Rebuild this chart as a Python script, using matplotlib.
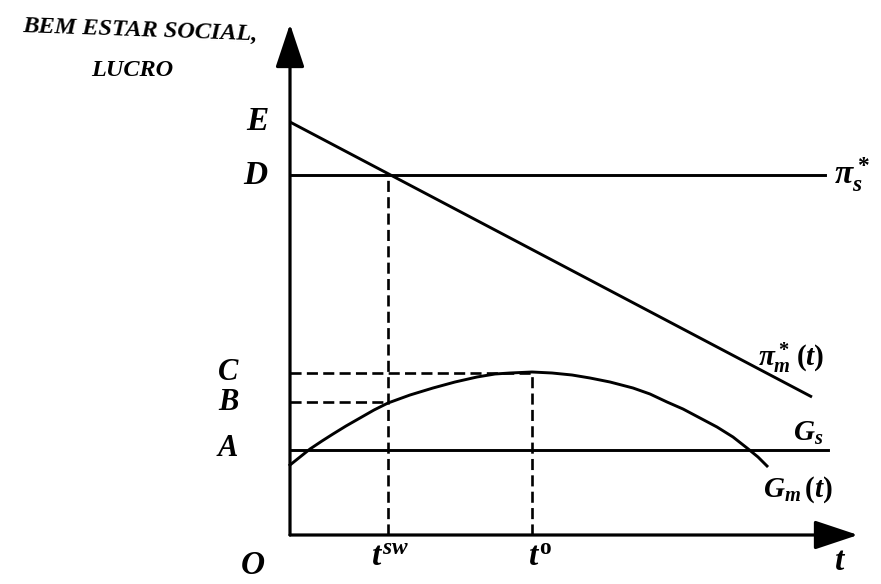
import numpy as np
import matplotlib.pyplot as plt
from matplotlib.patches import FancyArrowPatch

plt.rcParams['font.family'] = ['Liberation Serif', 'DejaVu Serif']
plt.rcParams['mathtext.fontset'] = 'custom'
plt.rcParams['mathtext.it'] = 'Liberation Serif:italic:bold'
plt.rcParams['mathtext.rm'] = 'Liberation Serif:bold'
plt.rcParams['mathtext.bf'] = 'Liberation Serif:bold:italic'

# Levels on the vertical axis
E, D, C, B, A = 413, 360, 162, 133, 85
t_sw, t_o = 98, 242

# pi*_m(t): falling straight line, start and end
pim_t = [0, 522]
pim_v = [E, 138]

# pi*_s and G_s: horizontal lines
pis_t = [0, 535]
gs_t = [0, 538]

# G_m(t): hump-shaped curve
gm_t = [0, 10, 20, 32, 43, 56, 70, 84, 98, 120, 143, 165, 187, 205, 220, 242,
        262, 282, 300, 320, 343, 360, 377, 393, 410, 427, 443, 457, 468, 477]
gm_v = [70, 78, 86, 94, 101, 109, 117, 125, 132, 140, 147, 153, 158, 161, 162, 163,
        162, 160, 157, 153, 147, 141, 133, 126, 117, 108, 98, 87, 78, 69]

x_end, y_end = 568, 511

fig = plt.figure(figsize=(8.81, 5.84), dpi=100)
ax = fig.add_axes([0, 0, 1, 1])
ax.set_xlim(-290, 591)
ax.set_ylim(-49, 535)
ax.axis('off')

lw = 2.1
dash = (0, (4.2, 2.0))

# axes with arrows
for xy in [((0, 0), (x_end, 0)), ((0, 0), (0, y_end))]:
    ax.add_patch(FancyArrowPatch(xy[0], xy[1], arrowstyle='-|>,head_length=1.35,head_width=0.45',
                                 mutation_scale=20, lw=2.3, color='black', shrinkA=0, shrinkB=0))

# curves
ax.plot(pim_t, pim_v, color='black', lw=lw, solid_capstyle='butt')
ax.plot(pis_t, [D, D], color='black', lw=lw)
ax.plot(gs_t, [A, A], color='black', lw=lw)
ax.plot(gm_t, gm_v, color='black', lw=lw, solid_joinstyle='round')

# dashed guides
ax.plot([t_sw, t_sw], [0, D], color='black', lw=1.9, ls=dash)
ax.plot([t_o, t_o], [0, C], color='black', lw=1.9, ls=dash)
ax.plot([0, t_o], [C, C], color='black', lw=1.9, ls=dash)
ax.plot([0, t_sw], [B, B], color='black', lw=1.9, ls=dash)

# text, positions given in pixels of the original picture
def label(px, py, s, size, ha='center', rot=0):
    ax.text(px - 290, 535 - py, s, fontsize=size, ha=ha, va='center',
            fontweight='bold', style='italic', rotation=rot)

label(140, 31, 'BEM ESTAR SOCIAL,', 17.5, rot=-2)
label(132, 70, 'LUCRO', 17.5)
label(257, 122, 'E', 24)
label(255, 175, 'D', 24)
label(228, 372, 'C', 22)
label(228, 402, 'B', 22)
label(228, 448, 'A', 22)
label(253, 565, 'O', 24)
label(390, 557, r'$t^{sw}$', 24)
label(540, 557, r'$t^{\mathrm{o}}$', 24)
label(840, 562, r'$t$', 24)
label(834, 175, r'$\pi_s^*$', 24, ha='left')
label(758, 358, r'$\pi_m^*\,(t)$', 21, ha='left')
label(808, 433, r'$G_s$', 21)
label(798, 490, r'$G_m\,(t)$', 21)

fig.savefig('out.png', dpi=100)
